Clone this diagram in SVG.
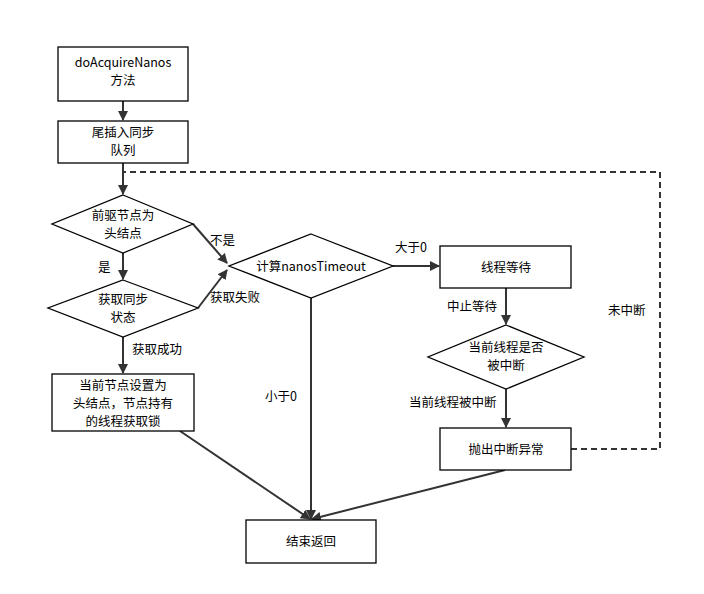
<svg xmlns="http://www.w3.org/2000/svg" width="704" height="594" viewBox="0 0 704 594">
<style>
.n{fill:#fff;stroke:#000;stroke-width:1.3}
.t{font-family:"Noto Sans CJK SC","Liberation Sans",sans-serif;font-size:12.5px;text-anchor:middle;fill:#000}
.l{font-family:"Noto Sans CJK SC","Liberation Sans",sans-serif;font-size:12.5px;fill:#000}
.e{fill:none;stroke:#333;stroke-width:2;marker-end:url(#a)}
.d{fill:none;stroke:#333;stroke-width:2;stroke-dasharray:6 4}
</style>
<defs><marker id="a" viewBox="0 0 10 10" refX="9" refY="5" markerWidth="5" markerHeight="5" orient="auto" markerUnits="strokeWidth"><path d="M0,0L10,5L0,10z" fill="#333"/></marker></defs>
<rect width="704" height="594" fill="#fff"/>
<g id="edges">
<path class="e" d="M123,101V120"/>
<path class="e" d="M123,163V194"/>
<path class="e" d="M123,253V279"/>
<path class="e" d="M123,337V373"/>
<path class="e" d="M193,224L227,263"/>
<path class="e" d="M198,308L227,270"/>
<path class="e" d="M393,266H439"/>
<path class="e" d="M506,288V324"/>
<path class="e" d="M506,389V427"/>
<path class="e" d="M311,298V519"/>
<path class="e" d="M180,431L310,519"/>
<path class="e" d="M505,470L312,519"/>
<path class="d" d="M571,449H660V172H123"/>
</g>
<g id="n1"><rect class="n" x="58" y="47" width="130" height="54"/><text class="t" x="123" y="67">doAcquireNanos</text><text class="t" x="123" y="85">方法</text></g>
<g id="n2"><rect class="n" x="58" y="121" width="130" height="42"/><text class="t" x="123" y="137">尾插入同步</text><text class="t" x="123" y="155">队列</text></g>
<g id="n3"><polygon class="n" points="123,195 193,224 123,253 52,224"/><text class="t" x="123" y="220">前驱节点为</text><text class="t" x="123" y="238">头结点</text></g>
<g id="n4"><polygon class="n" points="123,280 198,308 123,337 48,308"/><text class="t" x="123" y="304">获取同步</text><text class="t" x="123" y="322">状态</text></g>
<g id="n5"><rect class="n" x="52" y="374" width="142" height="57"/><text class="t" x="123" y="390">当前节点设置为</text><text class="t" x="123" y="408">头结点，节点持有</text><text class="t" x="123" y="426">的线程获取锁</text></g>
<g id="n6"><polygon class="n" points="311,234 393,266 311,298 229,266"/><text class="t" x="311" y="271">计算nanosTimeout</text></g>
<g id="n7"><rect class="n" x="440" y="246" width="131" height="42"/><text class="t" x="506" y="272">线程等待</text></g>
<g id="n8"><polygon class="n" points="506,325 584,357 506,389 428,357"/><text class="t" x="506" y="352">当前线程是否</text><text class="t" x="506" y="370">被中断</text></g>
<g id="n9"><rect class="n" x="440" y="428" width="131" height="42"/><text class="t" x="506" y="454">抛出中断异常</text></g>
<g id="n10"><rect class="n" x="246" y="520" width="130" height="43"/><text class="t" x="311" y="546">结束返回</text></g>
<g id="labels">
<text class="l" x="210" y="245">不是</text>
<text class="l" x="98" y="272">是</text>
<text class="l" x="210" y="302">获取失败</text>
<text class="l" x="132" y="354">获取成功</text>
<text class="l" x="395" y="252">大于0</text>
<text class="l" x="447" y="311">中止等待</text>
<text class="l" x="409" y="407">当前线程被中断</text>
<text class="l" x="265" y="401">小于0</text>
<text class="l" x="608" y="315">未中断</text>
</g>
</svg>
